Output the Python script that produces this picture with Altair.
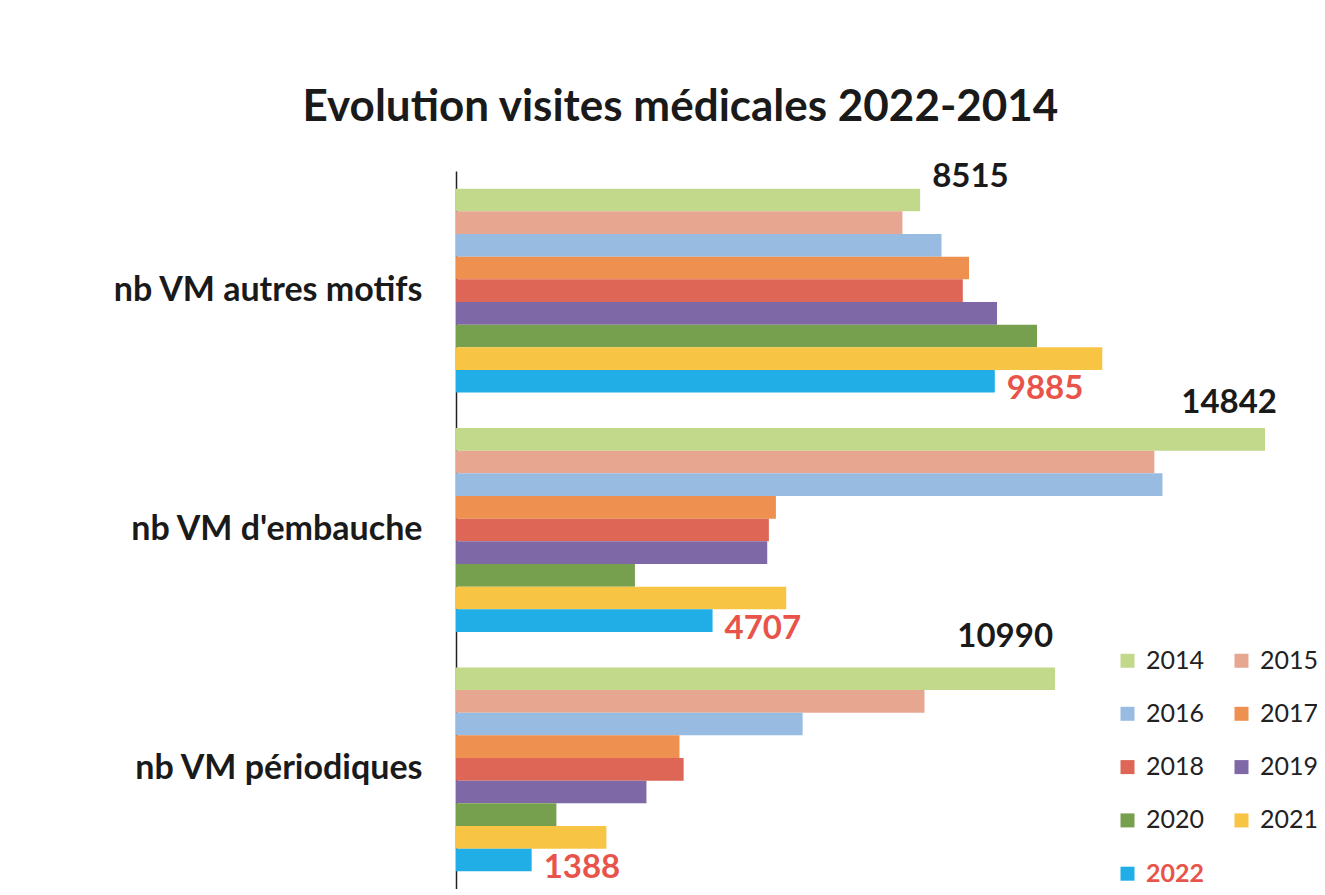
import altair as alt
import pandas as pd

categories = ["nb VM autres motifs", "nb VM d'embauche", "nb VM périodiques"]
years = ["2014", "2015", "2016", "2017", "2018", "2019", "2020", "2021", "2022"]
colors = ["#C2D98C", "#E6A690", "#98BBE2", "#EE9050", "#DD6656", "#7E68A6", "#77A04E", "#F8C443", "#21AEE6"]

autres_motifs = [8515, 8190, 8907, 9412, 9298, 9926, 10659, 11857, 9885]
embauche = [14842, 12812, 12961, 5869, 5740, 5710, 3283, 6058, 4707]
periodiques = [10990, 8595, 6359, 4100, 4176, 3494, 1842, 2759, 1388]

rows = []
for cat, vals in zip(categories, [autres_motifs, embauche, periodiques]):
    for y, v in zip(years, vals):
        rows.append({"cat": cat, "year": y, "value": v})
df = pd.DataFrame(rows)

FONT = "Lato"

ysc = alt.Scale(domain=categories, paddingInner=0.148, paddingOuter=0.074)
xsc = alt.Scale(domain=[0, 15796], nice=False)

base = alt.Chart(df).encode(
    y=alt.Y("cat:N", scale=ysc, sort=categories,
            axis=alt.Axis(title=None, labelFont=FONT, labelFontSize=34, labelFontWeight="bold",
                          labelColor="#1a1a1a", labelPadding=34, ticks=False,
                          domainColor="#222", domainWidth=1.5, labelLimit=500)),
    yOffset=alt.YOffset("year:N", sort=years, scale=alt.Scale(paddingInner=0, paddingOuter=0)),
    x=alt.X("value:Q", scale=xsc, axis=None),
)

bars = base.mark_bar(opacity=1).encode(
    color=alt.Color("year:N", sort=years, scale=alt.Scale(domain=years, range=colors),
                    legend=alt.Legend(title=None, orient="none", legendX=659, legendY=477,
                                      columns=2, direction="horizontal",
                                      symbolType="square", symbolSize=196,
                                      symbolStrokeWidth=0, labelFont=FONT, labelFontSize=25,
                                      labelColor=alt.expr("datum.label === '2022' ? '#E8544A' : '#222222'"),
                                      labelFontWeight=alt.expr("datum.label === '2022' ? 'bold' : 'normal'"),
                                      rowPadding=27.3, columnPadding=24, labelOffset=6))
)

lab_2014_a = base.transform_filter(
    (alt.datum.year == "2014") & (alt.datum.cat == categories[0])
).mark_text(align="left", baseline="middle", dx=12, dy=-23, font=FONT, fontSize=33,
            fontWeight="bold", color="#1a1a1a").encode(text="value:Q")
lab_2014_b = base.transform_filter(
    (alt.datum.year == "2014") & (alt.datum.cat == categories[1])
).mark_text(align="right", baseline="middle", dx=12, dy=-36, font=FONT, fontSize=33,
            fontWeight="bold", color="#1a1a1a").encode(text="value:Q")
lab_2014_c = base.transform_filter(
    (alt.datum.year == "2014") & (alt.datum.cat == categories[2])
).mark_text(align="right", baseline="middle", dx=-2, dy=-42, font=FONT, fontSize=33,
            fontWeight="bold", color="#1a1a1a").encode(text="value:Q")
lab_2022 = base.transform_filter(alt.datum.year == "2022").mark_text(
    align="left", baseline="middle", dx=12, dy=8, font=FONT, fontSize=33,
    fontWeight="bold", color="#E8544A").encode(text="value:Q")

chart = alt.layer(bars, lab_2014_a, lab_2014_b, lab_2014_c, lab_2022).properties(
    width=1309, height=881,
    autosize=alt.AutoSizeParams(type="fit", contains="padding"),
    title=alt.Title("Evolution visites médicales 2022-2014", font=FONT, fontSize=44,
                    fontWeight="bold", color="#1a1a1a", anchor="middle", frame="bounds",
                    offset=31, dx=-34),
    padding={"left": 103, "top": 84, "right": 0, "bottom": 0},
    background="white",
).configure_view(stroke=None)

chart.save("out.html", embed_options={"renderer": "svg", "actions": False})
